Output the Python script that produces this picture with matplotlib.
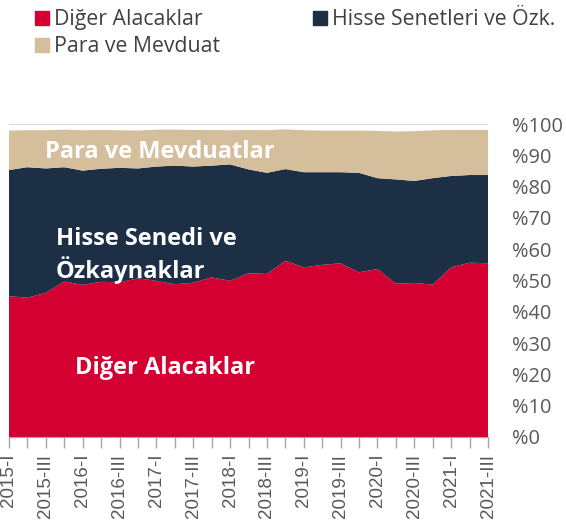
import matplotlib
matplotlib.use("Agg")
import matplotlib.pyplot as plt
from matplotlib.patches import Patch

quarters = ["2015-I", "2015-II", "2015-III", "2015-IV",
            "2016-I", "2016-II", "2016-III", "2016-IV",
            "2017-I", "2017-II", "2017-III", "2017-IV",
            "2018-I", "2018-II", "2018-III", "2018-IV",
            "2019-I", "2019-II", "2019-III", "2019-IV",
            "2020-I", "2020-II", "2020-III", "2020-IV",
            "2021-I", "2021-II", "2021-III"]

diger = [45.0, 44.5, 46.1, 49.7, 48.6, 49.6, 49.4, 50.7, 49.9, 48.8, 49.3, 51.0, 49.9,
         52.3, 52.1, 56.3, 54.2, 55.0, 55.5, 52.6, 53.7, 49.0, 49.2, 48.7, 54.2, 55.7, 55.5]
hisse_top = [85.3, 86.2, 85.8, 86.2, 85.1, 85.7, 86.0, 85.8, 86.4, 86.7, 86.4, 86.7, 87.1,
             85.5, 84.4, 85.6, 84.6, 84.6, 84.6, 84.4, 82.7, 82.3, 81.8, 82.7, 83.4, 83.7, 83.7]
toplam = [97.9, 98.0, 98.0, 98.2, 98.0, 98.1, 98.0, 97.9, 98.2, 98.2, 98.1, 98.1, 98.0,
          98.1, 98.0, 98.3, 98.0, 97.9, 97.9, 97.9, 97.8, 97.6, 97.7, 98.0, 98.1, 98.1, 98.1]

hisse = [round(t - d, 2) for t, d in zip(hisse_top, diger)]
para = [round(s - t, 2) for s, t in zip(toplam, hisse_top)]

y_ticks = list(range(0, 101, 10))
y_labels = ["%" + str(v) for v in y_ticks]

c_red = "#D50032"
c_navy = "#1C2F45"
c_tan = "#D4BE9C"
c_text = "#595959"
c_legend = "#404040"

plt.rcParams["font.family"] = ["Open Sans", "DejaVu Sans"]

fig = plt.figure(figsize=(5.66, 5.27), dpi=100)
ax = fig.add_axes([9 / 566, (527 - 437) / 527, (488 - 9) / 566, (437 - 124) / 527])

x = list(range(len(quarters)))
ax.stackplot(x, diger, hisse, para, colors=[c_red, c_navy, c_tan], linewidth=0, zorder=2)

ax.set_xlim(0, len(quarters) - 1)
ax.set_ylim(0, 100)

ax.yaxis.tick_right()
ax.set_yticks(y_ticks)
ax.set_yticklabels(y_labels, fontsize=14.4, color=c_text, ha="left")
ax.tick_params(axis="y", length=0, pad=17)
ax.grid(axis="y", color="#D9D9D9", linewidth=1.5, zorder=0)
ax.set_axisbelow(True)

ax.set_xticks(x, minor=True)
ax.set_xticks(x[::2])
ax.set_xticklabels(quarters[::2], rotation=90, fontsize=13.5, color=c_text,
                   family=["Liberation Sans", "DejaVu Sans"])
ax.tick_params(axis="x", which="both", length=8, color="#A6A6A6", width=1, pad=4)

for s in ["top", "right", "left"]:
    ax.spines[s].set_visible(False)
ax.spines["bottom"].set_color("#A6A6A6")

lbl = dict(color="white", fontsize=17, fontweight="bold", va="baseline", ha="left", zorder=5)
ax.text(1.95, 89.0, "Para ve Mevduatlar", **lbl)
ax.text(2.55, 61.3, "Hisse Senedi ve", **lbl)
ax.text(2.55, 50.9, "Özkaynaklar", **lbl)
ax.text(3.58, 20.1, "Diğer Alacaklar", **lbl)

handles = [Patch(color=c_red, label="Diğer Alacaklar"),
           Patch(color=c_tan, label="Para ve Mevduat"),
           Patch(color=c_navy, label="Hisse Senetleri ve Özk.")]
fig.legend(handles=handles, ncol=2, loc="upper left", bbox_to_anchor=(35 / 566, 0.982),
           frameon=False, fontsize=15.3, handlelength=0.66, handleheight=0.66,
           handletextpad=0.24, columnspacing=4.38, labelspacing=0.27,
           borderpad=0, borderaxespad=0, labelcolor=c_legend)

fig.savefig("out.png", dpi=100)
